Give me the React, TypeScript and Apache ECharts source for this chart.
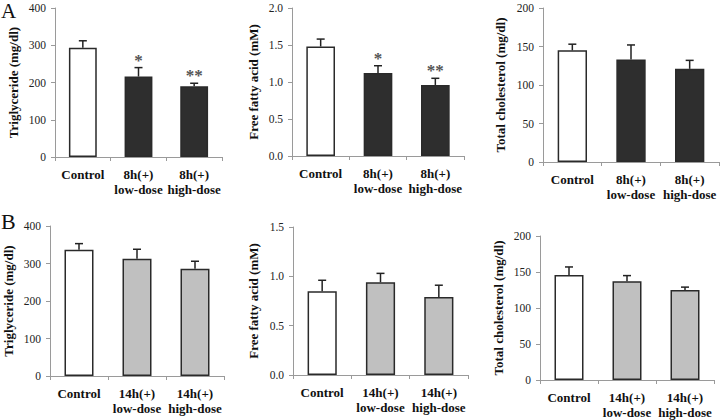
import React, { useEffect, useRef } from "react";
import * as echarts from "echarts";

const categoriesA = ["Control", "8h(+)\nlow-dose", "8h(+)\nhigh-dose"];
const categoriesB = ["Control", "14h(+)\nlow-dose", "14h(+)\nhigh-dose"];

const tgA = [293, 216, 190];
const tgAErr = [19, 24, 8];
const tgASig = ["", "*", "**"];

const ffaA = [1.48, 1.12, 0.96];
const ffaAErr = [0.1, 0.1, 0.09];
const ffaASig = ["", "*", "**"];

const tcA = [145, 133, 121];
const tcAErr = [8, 19, 11];
const tcASig = ["", "", ""];

const tgB = [337, 313, 286];
const tgBErr = [16, 25, 20];
const tgBSig = ["", "", ""];

const ffaB = [0.85, 0.94, 0.79];
const ffaBErr = [0.11, 0.09, 0.12];
const ffaBSig = ["", "", ""];

const tcB = [146, 137, 125];
const tcBErr = [11, 8, 4];
const tcBSig = ["", "", ""];

const SERIF = "'Liberation Serif', 'Times New Roman', serif";

type Panel = {
  cats: string[];
  values: number[];
  errs: number[];
  sig: string[];
  title: string;
  max: number;
  interval: number;
  decimals: number;
  treatColor: string;
  grid: { left: number; top: number; width: number; height: number };
  nameGap: number;
};

const panels: Panel[] = [
  { cats: categoriesA, values: tgA, errs: tgAErr, sig: tgASig, title: "Triglyceride (mg/dl)", max: 400, interval: 100, decimals: 0, treatColor: "#2e2e2e", grid: { left: 55, top: 8, width: 167, height: 149 }, nameGap: 35 },
  { cats: categoriesA, values: ffaA, errs: ffaAErr, sig: ffaASig, title: "Free fatty acid (mM)", max: 2, interval: 0.5, decimals: 1, treatColor: "#2e2e2e", grid: { left: 292, top: 8, width: 172, height: 148 }, nameGap: 32 },
  { cats: categoriesA, values: tcA, errs: tcAErr, sig: tcASig, title: "Total cholesterol (mg/dl)", max: 200, interval: 50, decimals: 0, treatColor: "#2e2e2e", grid: { left: 543, top: 8, width: 176, height: 154 }, nameGap: 36 },
  { cats: categoriesB, values: tgB, errs: tgBErr, sig: tgBSig, title: "Triglyceride (mg/dl)", max: 400, interval: 100, decimals: 0, treatColor: "#c0c0c0", grid: { left: 50, top: 226, width: 174, height: 150 }, nameGap: 35 },
  { cats: categoriesB, values: ffaB, errs: ffaBErr, sig: ffaBSig, title: "Free fatty acid (mM)", max: 1.5, interval: 0.5, decimals: 1, treatColor: "#c0c0c0", grid: { left: 293, top: 227, width: 175, height: 148 }, nameGap: 33 },
  { cats: categoriesB, values: tcB, errs: tcBErr, sig: tcBSig, title: "Total cholesterol (mg/dl)", max: 200, interval: 50, decimals: 0, treatColor: "#c0c0c0", grid: { left: 540, top: 236, width: 174, height: 144 }, nameGap: 35 },
];

export default function App() {
  const ref = useRef<HTMLDivElement>(null);
  useEffect(() => {
    if (!ref.current) return;
    const chart = echarts.init(ref.current, undefined, { renderer: "svg" });
    const axisColor = "#9a9a9a";
    const grid = panels.map((p) => ({ ...p.grid, containLabel: false }));
    const xAxis = panels.map((p, i) => ({
      type: "category",
      gridIndex: i,
      data: p.cats,
      boundaryGap: true,
      axisLine: { show: true, lineStyle: { color: axisColor, width: 1 } },
      axisTick: { show: true, length: 4, lineStyle: { color: axisColor } },
      axisLabel: {
        interval: 0,
        margin: 10,
        color: "#111",
        fontFamily: SERIF,
        fontWeight: "bold",
        fontSize: 13,
        lineHeight: 15,
      },
    }));
    const yAxis = panels.map((p, i) => ({
      type: "value",
      gridIndex: i,
      min: 0,
      max: p.max,
      interval: p.interval,
      name: p.title,
      nameLocation: "middle",
      nameRotate: 90,
      nameGap: p.nameGap,
      nameTextStyle: { fontFamily: SERIF, fontWeight: "bold", fontSize: 13, color: "#111" },
      axisLine: { show: true, lineStyle: { color: axisColor, width: 1 } },
      axisTick: { show: true, length: 4, lineStyle: { color: axisColor } },
      splitLine: { show: false },
      axisLabel: {
        margin: 9,
        color: "#222",
        fontFamily: SERIF,
        fontSize: 11.5,
        formatter: (v: number) => v.toFixed(p.decimals),
      },
    }));
    const series: any[] = [];
    panels.forEach((p, i) => {
      series.push({
        type: "bar",
        xAxisIndex: i,
        yAxisIndex: i,
        barWidth: "50%",
        data: p.values.map((v, k) => ({
          value: v,
          itemStyle: {
            color: k === 0 ? "#ffffff" : p.treatColor,
            borderColor: "#2a2a2a",
            borderWidth: 1.5,
          },
        })),
        z: 2,
      });
      series.push({
        type: "custom",
        xAxisIndex: i,
        yAxisIndex: i,
        clip: false,
        z: 3,
        data: p.values.map((v, k) => [k, v, p.errs[k]]),
        renderItem: (params: any, api: any) => {
          const x = api.value(0);
          const v = api.value(1);
          const e = api.value(2);
          const p0 = api.coord([x, v]);
          const p1 = api.coord([x, v + e]);
          const stroke = { stroke: "#222", lineWidth: 1.5 };
          const children: any[] = [
            { type: "line", shape: { x1: p0[0], y1: p0[1], x2: p1[0], y2: p1[1] }, style: stroke },
            { type: "line", shape: { x1: p1[0] - 4, y1: p1[1], x2: p1[0] + 4, y2: p1[1] }, style: stroke },
          ];
          const s = p.sig[params.dataIndex];
          if (s) {
            children.push({
              type: "text",
              x: p1[0],
              y: p1[1] + 1,
              style: {
                text: s,
                fill: "#555",
                font: `bold 17px ${SERIF}`,
                textAlign: "center",
                textVerticalAlign: "bottom",
              },
            });
          }
          return { type: "group", children };
        },
      });
    });
    chart.setOption({
      animation: false,
      backgroundColor: "#ffffff",
      grid,
      xAxis,
      yAxis,
      series,
      graphic: [
        { type: "text", left: 1, top: 0, style: { text: "A", font: `21px ${SERIF}`, fill: "#111" } },
        { type: "text", left: 1, top: 210, style: { text: "B", font: `22px ${SERIF}`, fill: "#111" } },
      ],
    });
    return () => chart.dispose();
  }, []);
  return (
    <div
      ref={ref}
      style={{ position: "fixed", left: 0, top: 0, width: 720, height: 420, background: "#fff" }}
    />
  );
}
